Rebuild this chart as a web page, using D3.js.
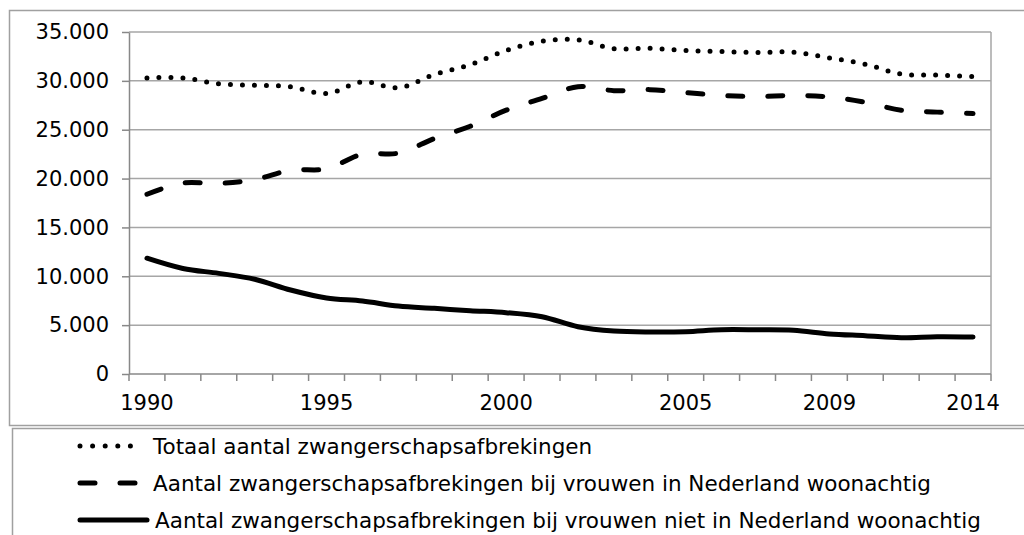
<!DOCTYPE html>
<html>
<head>
<meta charset="utf-8">
<script src="https://cdn.jsdelivr.net/npm/d3@7"></script>
<style>
  body { margin: 0; background: #fff; }
  svg { display: block; font-family: "DejaVu Sans", Verdana, sans-serif; }
  .grid line { stroke: #a6a6a6; stroke-width: 1.5; }
  .axis path, .axis line { stroke: #888; stroke-width: 1.5; }
  .axis text { fill: #000; font-size: 21px; font-family: "DejaVu Sans", Verdana, sans-serif; }
  .legend text { font-size: 21.5px; fill: #000; }
</style>
</head>
<body>
<svg width="1024" height="535"></svg>
<script>
"use strict";

// categories (2010 ontbreekt in de bron)
var years = ["1990","1991","1992","1993","1994","1995","1996","1997","1998","1999",
  "2000","2001","2002","2003","2004","2005","2006","2007","2008","2009",
  "2011","2012","2013","2014"];

var yearLabels = ["1990","1995","2000","2005","2009","2014"];

var totaal = [30300,30300,29700,29550,29400,28700,29900,29300,30650,31650,
  33100,34050,34200,33300,33330,33100,33000,32900,32940,32350,
  31700,30700,30600,30450];

var inNederland = [18400,19550,19500,19900,20850,21000,22500,22600,24100,25350,
  27000,28200,29400,29000,29100,28800,28500,28400,28500,28350,
  27800,27000,26800,26650];

var nietInNederland = [11850,10800,10300,9700,8600,7780,7470,6950,6720,6480,
  6280,5860,4840,4400,4300,4330,4530,4520,4470,4100,
  3920,3720,3820,3790];

var yTicks = [0,5000,10000,15000,20000,25000,30000,35000];

var seriesNames = [
  "Totaal aantal zwangerschapsafbrekingen",
  "Aantal zwangerschapsafbrekingen bij vrouwen in Nederland woonachtig",
  "Aantal zwangerschapsafbrekingen bij vrouwen niet in Nederland woonachtig"
];

var svg = d3.select("svg");

// chart and legend frames
svg.append("rect").attr("x",9.5).attr("y",10.5).attr("width",1030).attr("height",415)
  .attr("fill","none").attr("stroke","#a0a0a0").attr("stroke-width",1.5);
svg.append("rect").attr("x",12.5).attr("y",428.5).attr("width",1030).attr("height",120)
  .attr("fill","none").attr("stroke","#a0a0a0").attr("stroke-width",1.5);

var margin = {left:129, right:991, top:32, bottom:374};

var x = d3.scaleBand().domain(years).range([margin.left, margin.right]).paddingInner(0).paddingOuter(0),
  y = d3.scaleLinear().domain([0,35000]).range([margin.bottom, margin.top]);

var fmt = function(d){ return d3.format(",")(d).replace(/,/g, "."); };

// horizontal gridlines
svg.append("g").attr("class","grid")
  .selectAll("line").data(yTicks.slice(1)).enter().append("line")
  .attr("x1", margin.left).attr("x2", margin.right)
  .attr("y1", function(d){ return y(d); }).attr("y2", function(d){ return y(d); });

// right border of plot area
svg.append("line").attr("x1",margin.right).attr("x2",margin.right)
  .attr("y1",margin.top).attr("y2",margin.bottom)
  .attr("stroke","#a6a6a6").attr("stroke-width",1.5);

// y axis
var yAxis = svg.append("g").attr("class","axis")
  .attr("transform","translate(" + margin.left + ",0)")
  .call(d3.axisLeft(y).tickValues(yTicks).tickFormat(fmt).tickSize(7).tickPadding(13).tickSizeOuter(0));
yAxis.attr("font-family", null).attr("font-size", null);

// x axis: ticks on category boundaries, labels on selected categories
var xAxis = svg.append("g").attr("class","axis")
  .attr("transform","translate(0," + margin.bottom + ")");
xAxis.append("line").attr("x1",margin.left).attr("x2",margin.right);
xAxis.selectAll(".tk").data(years.concat(["end"])).enter().append("line")
  .attr("class","tk")
  .attr("x1", function(d,i){ return margin.left + i*x.bandwidth(); })
  .attr("x2", function(d,i){ return margin.left + i*x.bandwidth(); })
  .attr("y1",0).attr("y2",7);
xAxis.selectAll("text").data(yearLabels).enter().append("text")
  .attr("x", function(d){ return x(d) + x.bandwidth()/2; })
  .attr("y", 36)
  .attr("text-anchor","middle")
  .text(function(d){ return d; });

// lines
var line = d3.line()
  .x(function(d,i){ return x(years[i]) + x.bandwidth()/2; })
  .y(function(d){ return y(d); })
  .curve(d3.curveCatmullRom.alpha(0.5));

var styles = [
  {data: totaal, width: 5, dash: "0,12"},
  {data: inNederland, width: 5, dash: "15,25"},
  {data: nietInNederland, width: 5, dash: null}
];

styles.forEach(function(s){
  svg.append("path")
    .datum(s.data)
    .attr("d", line)
    .attr("fill","none")
    .attr("stroke","#000")
    .attr("stroke-width", s.width)
    .attr("stroke-linecap","round")
    .attr("stroke-linejoin","round")
    .attr("stroke-dasharray", s.dash);
});

// legend
var legend = svg.append("g").attr("class","legend");
var legendY = [446, 483, 520];
styles.forEach(function(s, i){
  legend.append("line")
    .attr("x1", 80).attr("x2", i == 2 ? 147 : 143)
    .attr("y1", legendY[i]).attr("y2", legendY[i])
    .attr("stroke","#000")
    .attr("stroke-width", s.width)
    .attr("stroke-linecap","round")
    .attr("stroke-dasharray", i == 0 ? "0,12.6" : s.dash);
  legend.append("text")
    .attr("x", i == 2 ? 155 : 153)
    .attr("y", legendY[i])
    .attr("dy","0.35em")
    .text(seriesNames[i]);
});
</script>
</body>
</html>
